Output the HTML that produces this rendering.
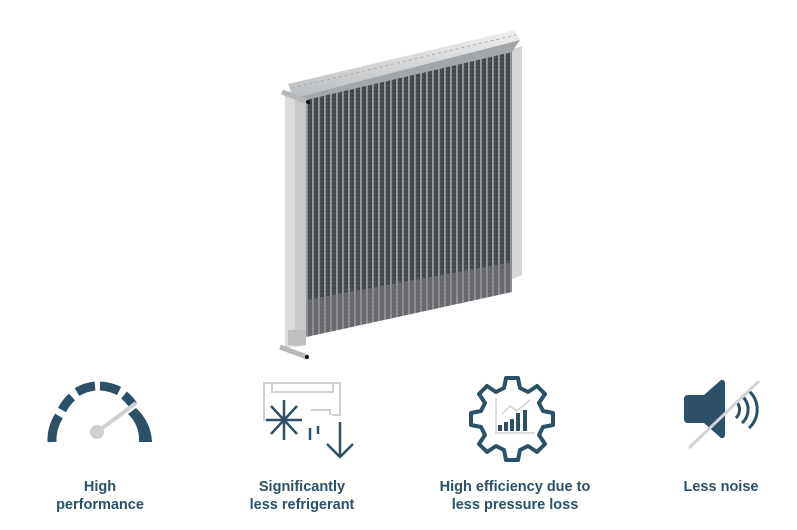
<!DOCTYPE html>
<html><head><meta charset="utf-8"><style>
html,body{margin:0;padding:0;background:#fff;width:797px;height:530px;overflow:hidden}
svg{display:block}
text{font-family:"Liberation Sans",sans-serif;font-weight:bold;font-size:14.5px;fill:#2b5068;text-anchor:middle}
</style></head><body>
<svg width="797" height="530" viewBox="0 0 797 530" xmlns="http://www.w3.org/2000/svg">
<defs>
<pattern id="fins" width="6" height="4" patternUnits="userSpaceOnUse">
<rect width="6" height="4" fill="#44464a"/>
<rect x="0" y="0" width="1.8" height="4" fill="#9a9da1"/>
<rect x="2.5" y="1" width="2" height="1" fill="#5e6165"/>
</pattern>
<linearGradient id="rail" x1="0" y1="0" x2="0" y2="1">
<stop offset="0" stop-color="#f0f0f0"/><stop offset="1" stop-color="#b9bcbf"/>
</linearGradient>
</defs>
<polygon points="285,92 306,88 306,345 285,348" fill="#dcdcdc"/>
<polygon points="295,92 306,90 306,345 295,347" fill="#c8c9ca"/>
<polygon points="510,50 522,46 522,275 510,280" fill="#d4d5d6"/>
<polygon points="306,98 512,50 512,292 306,337" fill="url(#fins)"/>
<polygon points="306,300 512,262 512,292 306,337" fill="#85888c" opacity="0.5"/>
<polygon points="288,84 515,30 520,40 294,98" fill="url(#rail)"/>
<line x1="292" y1="88" x2="516" y2="35" stroke="#a9acaf" stroke-width="1" stroke-dasharray="3,3"/>
<polygon points="294,98 520,40 512,52 306,100" fill="#a4a7aa"/>
<line x1="282" y1="92" x2="308" y2="102" stroke="#b5b7b9" stroke-width="5"/>
<circle cx="308" cy="102" r="2" fill="#111"/>
<line x1="280" y1="347" x2="307" y2="357" stroke="#b5b7b9" stroke-width="5"/>
<circle cx="307" cy="357" r="2" fill="#111"/>
<rect x="288" y="330" width="18" height="15" fill="#bdbebf"/>

<g fill="none" stroke="#2b5068" stroke-width="9">
<path d="M52,442 A46,46 0 0 1 59,416" />
<path d="M62,410 A46,46 0 0 1 72,397" />
<path d="M77,392 A46,46 0 0 1 95,386" />
<path d="M100,386 A46,46 0 0 1 119,391" />
<path d="M124,395 A46,46 0 0 1 133,405" />
</g>
<path d="M136,408 A48,48 0 0 1 152,442 L139,442 A35,35 0 0 0 128,414 Z" fill="#2b5068"/>
<line x1="97" y1="432" x2="136" y2="403" stroke="#cfd0d1" stroke-width="4"/>
<circle cx="97" cy="432" r="7" fill="#cfd0d1"/>

<g fill="none" stroke="#cfd0d1" stroke-width="2">
<path d="M301,420 L264,420 L264,383 L340,383 L340,415 L332,415"/>
<path d="M272,383 L272,392 L333,392 L333,383"/>
<path d="M311,410 L330,410 L330,415"/>
</g>
<g stroke="#2b5068" stroke-width="2.5" fill="none">
<line x1="284" y1="400" x2="284" y2="440"/>
<line x1="266" y1="420" x2="302" y2="420"/>
<line x1="271" y1="406" x2="297" y2="434"/>
<line x1="297" y1="406" x2="271" y2="434"/>
<line x1="310" y1="428" x2="310" y2="440"/>
<line x1="318" y1="426" x2="318" y2="434"/>
<line x1="340" y1="422" x2="340" y2="456"/>
<polyline points="327,444 340,457 353,444"/>
</g>

<path d="M506,378 h12 l2,10 l8,4 l9,-6 l8,8 l-6,9 l4,8 l10,2 v12 l-10,2 l-4,8 l6,9 l-8,8 l-9,-6 l-8,4 l-2,10 h-12 l-2,-10 l-8,-4 l-9,6 l-8,-8 l6,-9 l-4,-8 l-10,-2 v-12 l10,-2 l4,-8 l-6,-9 l8,-8 l9,6 l8,-4 z" fill="none" stroke="#2b5068" stroke-width="4" stroke-linejoin="round"/>
<g stroke="#cfd0d1" stroke-width="1.5" fill="none">
<polyline points="496,398 496,433 535,433"/>
<polyline points="502,414 510,406 517,411 530,400"/>
</g>
<g fill="#2b5068">
<rect x="498" y="425" width="4" height="6"/><rect x="504" y="422" width="4" height="9"/>
<rect x="510" y="419" width="4" height="12"/><rect x="516" y="413" width="4" height="18"/>
<rect x="523" y="410" width="4" height="21"/>
</g>

<path d="M688,395 h16 l17,-15 q4,-1 4,4 v50 q0,5 -4,4 l-17,-15 h-16 q-4,0 -4,-4 v-20 q0,-4 4,-4z" fill="#2b5068"/>
<g fill="none" stroke="#2b5068" stroke-width="3">
<path d="M736,401 a12,12 0 0 1 0,17"/>
<path d="M742,396 a18,18 0 0 1 0,27"/>
<path d="M749,391 a25,25 0 0 1 0,37"/>
</g>
<line x1="689" y1="448" x2="759" y2="381" stroke="#d2d3d4" stroke-width="3"/>

<text x="100" y="491">High</text>
<text x="100" y="509">performance</text>
<text x="302" y="491">Significantly</text>
<text x="302" y="509">less refrigerant</text>
<text x="515" y="491">High efficiency due to</text>
<text x="515" y="509">less pressure loss</text>
<text x="721" y="491">Less noise</text>
</svg>
</body></html>
